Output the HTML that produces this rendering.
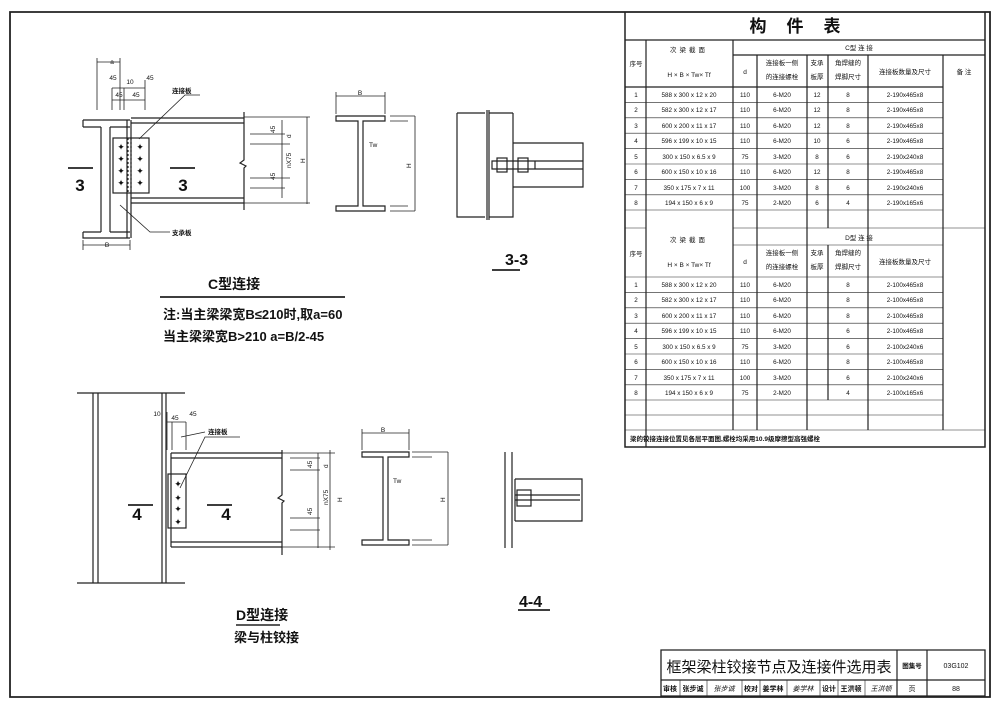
<!DOCTYPE html>
<html><head><meta charset="utf-8"><style>
html,body{margin:0;padding:0;background:#fff;}
svg{display:block;font-family:"Liberation Sans","Noto Sans CJK SC",sans-serif;}
</style></head><body>
<svg width="1001" height="709" viewBox="0 0 1001 709" xmlns="http://www.w3.org/2000/svg">
<g stroke="#222" fill="none" stroke-width="1.2">
<!-- frame -->
<path d="M10 12 H990 V697 H10 Z" stroke-width="1.8"/>
<!-- table outline -->
<path d="M625 12 V447 H985 V12" stroke-width="1.5"/>
<line x1="625" y1="40" x2="985" y2="40" stroke-width="1.3"/>
<!-- C section -->
<line x1="733" y1="55" x2="985" y2="55"/>
<line x1="625" y1="87" x2="943" y2="87"/>
<line x1="646" y1="40" x2="646" y2="447"/>
<line x1="733" y1="40" x2="733" y2="430"/>
<line x1="757" y1="55" x2="757" y2="430"/>
<line x1="807" y1="55" x2="807" y2="430"/>
<line x1="828" y1="55" x2="828" y2="228"/>
<line x1="868" y1="55" x2="868" y2="430"/>
<line x1="943" y1="55" x2="943" y2="430"/>
<line x1="828" y1="245" x2="828" y2="400"/>
<g stroke-width="0.6">
<line x1="625" y1="102.4" x2="943" y2="102.4"/><line x1="625" y1="117.8" x2="943" y2="117.8"/>
<line x1="625" y1="133.2" x2="943" y2="133.2"/><line x1="625" y1="148.6" x2="943" y2="148.6"/>
<line x1="625" y1="164" x2="943" y2="164"/><line x1="625" y1="179.4" x2="943" y2="179.4"/>
<line x1="625" y1="194.8" x2="943" y2="194.8"/><line x1="625" y1="210" x2="943" y2="210"/>
<line x1="733" y1="228" x2="985" y2="228"/>
<line x1="733" y1="245" x2="943" y2="245"/>
<line x1="625" y1="277" x2="943" y2="277"/>
<line x1="625" y1="292.4" x2="943" y2="292.4"/><line x1="625" y1="307.8" x2="943" y2="307.8"/>
<line x1="625" y1="323.2" x2="943" y2="323.2"/><line x1="625" y1="338.6" x2="943" y2="338.6"/>
<line x1="625" y1="354" x2="943" y2="354"/><line x1="625" y1="369.4" x2="943" y2="369.4"/>
<line x1="625" y1="384.8" x2="943" y2="384.8"/><line x1="625" y1="400" x2="943" y2="400"/>
<line x1="625" y1="415" x2="943" y2="415"/>
<line x1="625" y1="430" x2="985" y2="430"/>
<line x1="625" y1="228" x2="646" y2="228"/>
</g>
<!-- title block -->
<path d="M661 650 H985 V696 H661 Z" stroke-width="1.3"/>
<line x1="661" y1="680" x2="985" y2="680"/>
<line x1="897" y1="650" x2="897" y2="696"/>
<line x1="927" y1="650" x2="927" y2="696"/>
<g stroke-width="0.6">
<line x1="680" y1="680" x2="680" y2="696"/><line x1="707" y1="680" x2="707" y2="696"/>
<line x1="742" y1="680" x2="742" y2="696"/><line x1="760" y1="680" x2="760" y2="696"/>
<line x1="787" y1="680" x2="787" y2="696"/><line x1="820" y1="680" x2="820" y2="696"/>
<line x1="838" y1="680" x2="838" y2="696"/><line x1="865" y1="680" x2="865" y2="696"/>
</g>

<!-- ===== C type elevation ===== -->
<path d="M83 120 H130 M83 127 H101 M110 127 H130 M83 120 V127 M83 232 V238 H130 M83 232 H101 M110 232 H130"/>
<path d="M101 127 V232 M110 127 V232"/>
<path d="M127 120 V238 M131 120 V238"/>
<path d="M131 118 H244 M131 123 H244 M131 198 H244 M131 203 H244 M244 112 V160 L240 163 L246 166 L244 168 V210"/>
<rect x="113" y="138" width="36" height="55"/>
<line x1="128" y1="138" x2="128" y2="193" stroke-dasharray="2 2"/>
<line x1="131" y1="138" x2="131" y2="193" stroke-dasharray="2 2"/>
<path d="M68 168 H93 M170 168 H195" stroke-width="1.8"/>
<path d="M97 62 H120 M97 58 V110 M120 58 V110 M112 88 V110 M124 88 V110 M112 88 H145 M112 100 H145 M124 100 V110 M145 80 V110" stroke-width="0.8"/>
<path d="M139 139 L185 95 H200 M120 205 L150 232 H170" stroke-width="0.8"/>
<path d="M83 245 H130 M83 240 V250 M130 240 V250" stroke-width="0.8"/>
<path d="M250 134 H285 M250 144 H285 M250 178 H285 M250 188 H285 M282 120 V198 M307 117 V204 M244 117 H310 M244 203 H310 M282 144 H290 M282 178 H290" stroke-width="0.8"/>

<!-- ===== 3-3 ===== -->
<path d="M336 116 H385 V121 H363 V206 H385 V211 H336 V206 H358 V121 H336 Z"/>
<path d="M336 96 H385 M336 92 V114 M385 92 V114 M390 116 H415 M390 211 H415 M415 116 V211 M390 121 H408 M390 206 H408" stroke-width="0.8"/>
<path d="M457 113 V217 H485 M457 113 H485 M487 110 V220 M489 110 V220 M513 113 V217 H489 M489 113 H513"/>
<path d="M513 143 H583 V187 H513 M513 161 H583 M513 169 H583 M492 161 H535 V169 H492 Z"/>
<rect x="497" y="158" width="10" height="14"/><rect x="518" y="158" width="10" height="14"/>
<line x1="492" y1="270" x2="520" y2="270" stroke-width="1.8"/>

<!-- ===== D type elevation ===== -->
<path d="M77 393 H185 M77 583 H185 M93 393 V583 M98 393 V583 M162 393 V583 M166 393 V583"/>
<path d="M171 453 H282 M171 458 H282 M171 542 H282 M171 547 H282 M171 453 V547 M282 450 V495 L278 498 L284 501 L282 503 V555"/>
<rect x="168" y="474" width="18" height="54"/>
<path d="M128 505 H153 M207 505 H232" stroke-width="1.8"/>
<path d="M167 412 V450 M172 422 V450 M186 422 V450 M167 422 H186 M181 437 L205 432 M180 488 L205 437 H240" stroke-width="0.8"/>
<path d="M290 458 H320 M290 518 H320 M290 470 H320 M290 530 H320 M318 453 V547 M330 450 V550 M282 453 H335 M282 547 H335 M318 460 V548" stroke-width="0.8"/>
<line x1="236" y1="625" x2="280" y2="625" stroke-width="1.6"/>

<!-- ===== 4-4 ===== -->
<path d="M362 452 H409 V457 H388 V540 H409 V545 H362 V540 H383 V457 H362 Z"/>
<path d="M362 433 H409 M362 429 V450 M409 429 V450 M412 452 H448 M412 545 H448 M448 452 V545 M412 457 H432 M412 540 H432" stroke-width="0.8"/>
<path d="M505 452 V548 M512 452 V548 M515 479 H582 V521 H515 M515 479 V521 M515 495 H580 M515 500 H580"/>
<rect x="517" y="490" width="14" height="16"/>
<line x1="518" y1="610" x2="550" y2="610" stroke-width="1.8"/>
<line x1="160" y1="297" x2="345" y2="297" stroke-width="1.8"/>
</g>

<!-- bolts -->
<g fill="#111" font-size="9" text-anchor="middle">
<text x="121" y="150">✦</text><text x="140" y="150">✦</text>
<text x="121" y="162">✦</text><text x="140" y="162">✦</text>
<text x="121" y="174">✦</text><text x="140" y="174">✦</text>
<text x="121" y="186">✦</text><text x="140" y="186">✦</text>
<text x="178" y="487">✦</text><text x="178" y="501">✦</text><text x="178" y="512">✦</text><text x="178" y="525">✦</text>
</g>

<!-- drawing text -->
<g fill="#111">
<text x="80" y="191" font-size="17" text-anchor="middle" font-weight="bold">3</text>
<text x="183" y="191" font-size="17" text-anchor="middle" font-weight="bold">3</text>
<text x="137" y="520" font-size="17" text-anchor="middle" font-weight="bold">4</text>
<text x="226" y="520" font-size="17" text-anchor="middle" font-weight="bold">4</text>
<g font-size="6.5" text-anchor="middle">
<text x="112" y="64">a</text><text x="113" y="80">45</text><text x="130" y="84">10</text><text x="150" y="80">45</text>
<text x="119" y="97">45</text><text x="136" y="97">45</text><text x="107" y="247">B</text>
<text x="360" y="95">B</text><text x="383" y="432">B</text>
<text x="157" y="416">10</text><text x="175" y="420">45</text><text x="193" y="416">45</text>
</g>
<g font-size="6.5" font-weight="bold"><text x="172" y="93">连接板</text><text x="172" y="235">支承板</text><text x="208" y="434">连接板</text></g>
<g font-size="6.5">
<text x="275" y="133" transform="rotate(-90 275 133)">45</text><text x="291" y="138" transform="rotate(-90 291 138)">d</text>
<text x="291" y="168" transform="rotate(-90 291 168)">nX75</text><text x="275" y="180" transform="rotate(-90 275 180)">45</text>
<text x="305" y="163" transform="rotate(-90 305 163)">H</text>
<text x="411" y="168" transform="rotate(-90 411 168)">H</text>
<text x="369" y="147">Tw</text>
<text x="312" y="468" transform="rotate(-90 312 468)">45</text><text x="328" y="468" transform="rotate(-90 328 468)">d</text>
<text x="328" y="505" transform="rotate(-90 328 505)">nX75</text><text x="312" y="515" transform="rotate(-90 312 515)">45</text>
<text x="342" y="502" transform="rotate(-90 342 502)">H</text>
<text x="445" y="502" transform="rotate(-90 445 502)">H</text>
<text x="393" y="483">Tw</text>
</g>
<text x="505" y="265" font-size="16" font-weight="bold">3-3</text>
<text x="519" y="607" font-size="16" font-weight="bold">4-4</text>
<text x="208" y="289" font-size="14" font-weight="bold">C型连接</text>
<text x="163" y="319" font-size="13" font-weight="bold">注:当主梁梁宽B≤210时,取a=60</text>
<text x="163" y="341" font-size="13" font-weight="bold">当主梁梁宽B&gt;210   a=B/2-45</text>
<text x="236" y="620" font-size="14" font-weight="bold">D型连接</text>
<text x="234" y="642" font-size="13" font-weight="bold">梁与柱铰接</text>
</g>

<!-- table text -->
<g fill="#111" font-size="6.5" text-anchor="middle">
<text x="805" y="32" font-size="17" font-weight="bold" letter-spacing="20">构件表</text>
<text x="689" y="52" letter-spacing="3">次梁截面</text><text x="689" y="242" letter-spacing="3">次梁截面</text>
<text x="689" y="77">H × B × Tw× Tf</text><text x="689" y="267">H × B × Tw× Tf</text>
<text x="636" y="66">序号</text><text x="636" y="256">序号</text>
<text x="859" y="50">C型 连 接</text><text x="859" y="240">D型 连 接</text>
<text x="745" y="74">d</text><text x="745" y="264">d</text>
<text x="782" y="65">连接板一侧</text><text x="782" y="79">的连接螺栓</text>
<text x="782" y="255">连接板一侧</text><text x="782" y="269">的连接螺栓</text>
<text x="817" y="65">支承</text><text x="817" y="79">板厚</text>
<text x="817" y="255">支承</text><text x="817" y="269">板厚</text>
<text x="848" y="65">角焊缝的</text><text x="848" y="79">焊脚尺寸</text>
<text x="848" y="255">角焊缝的</text><text x="848" y="269">焊脚尺寸</text>
<text x="905" y="74">连接板数量及尺寸</text><text x="905" y="264">连接板数量及尺寸</text>
<text x="964" y="74">备 注</text>
</g>
<g fill="#111" font-size="6.3" text-anchor="middle">
<text x="636" y="97">1</text><text x="689" y="97">588 x 300 x 12 x 20</text><text x="745" y="97">110</text><text x="782" y="97">6-M20</text><text x="817" y="97">12</text><text x="848" y="97">8</text><text x="905" y="97">2-190x465x8</text>
<text x="636" y="112">2</text><text x="689" y="112">582 x 300 x 12 x 17</text><text x="745" y="112">110</text><text x="782" y="112">6-M20</text><text x="817" y="112">12</text><text x="848" y="112">8</text><text x="905" y="112">2-190x465x8</text>
<text x="636" y="128">3</text><text x="689" y="128">600 x 200 x 11 x 17</text><text x="745" y="128">110</text><text x="782" y="128">6-M20</text><text x="817" y="128">12</text><text x="848" y="128">8</text><text x="905" y="128">2-190x465x8</text>
<text x="636" y="143">4</text><text x="689" y="143">596 x 199 x 10 x 15</text><text x="745" y="143">110</text><text x="782" y="143">6-M20</text><text x="817" y="143">10</text><text x="848" y="143">6</text><text x="905" y="143">2-190x465x8</text>
<text x="636" y="159">5</text><text x="689" y="159">300 x 150 x 6.5 x 9</text><text x="745" y="159">75</text><text x="782" y="159">3-M20</text><text x="817" y="159">8</text><text x="848" y="159">6</text><text x="905" y="159">2-190x240x8</text>
<text x="636" y="174">6</text><text x="689" y="174">600 x 150 x 10 x 16</text><text x="745" y="174">110</text><text x="782" y="174">6-M20</text><text x="817" y="174">12</text><text x="848" y="174">8</text><text x="905" y="174">2-190x465x8</text>
<text x="636" y="190">7</text><text x="689" y="190">350 x 175 x 7 x 11</text><text x="745" y="190">100</text><text x="782" y="190">3-M20</text><text x="817" y="190">8</text><text x="848" y="190">6</text><text x="905" y="190">2-190x240x6</text>
<text x="636" y="205">8</text><text x="689" y="205">194 x 150 x 6 x 9</text><text x="745" y="205">75</text><text x="782" y="205">2-M20</text><text x="817" y="205">6</text><text x="848" y="205">4</text><text x="905" y="205">2-190x165x6</text>
<text x="636" y="287">1</text><text x="689" y="287">588 x 300 x 12 x 20</text><text x="745" y="287">110</text><text x="782" y="287">6-M20</text><text x="848" y="287">8</text><text x="905" y="287">2-100x465x8</text>
<text x="636" y="302">2</text><text x="689" y="302">582 x 300 x 12 x 17</text><text x="745" y="302">110</text><text x="782" y="302">6-M20</text><text x="848" y="302">8</text><text x="905" y="302">2-100x465x8</text>
<text x="636" y="318">3</text><text x="689" y="318">600 x 200 x 11 x 17</text><text x="745" y="318">110</text><text x="782" y="318">6-M20</text><text x="848" y="318">8</text><text x="905" y="318">2-100x465x8</text>
<text x="636" y="333">4</text><text x="689" y="333">596 x 199 x 10 x 15</text><text x="745" y="333">110</text><text x="782" y="333">6-M20</text><text x="848" y="333">6</text><text x="905" y="333">2-100x465x8</text>
<text x="636" y="349">5</text><text x="689" y="349">300 x 150 x 6.5 x 9</text><text x="745" y="349">75</text><text x="782" y="349">3-M20</text><text x="848" y="349">6</text><text x="905" y="349">2-100x240x6</text>
<text x="636" y="364">6</text><text x="689" y="364">600 x 150 x 10 x 16</text><text x="745" y="364">110</text><text x="782" y="364">6-M20</text><text x="848" y="364">8</text><text x="905" y="364">2-100x465x8</text>
<text x="636" y="380">7</text><text x="689" y="380">350 x 175 x 7 x 11</text><text x="745" y="380">100</text><text x="782" y="380">3-M20</text><text x="848" y="380">6</text><text x="905" y="380">2-100x240x6</text>
<text x="636" y="395">8</text><text x="689" y="395">194 x 150 x 6 x 9</text><text x="745" y="395">75</text><text x="782" y="395">2-M20</text><text x="848" y="395">4</text><text x="905" y="395">2-100x165x6</text>
</g>
<text x="630" y="441" font-size="6.5" font-weight="bold" fill="#111">梁的铰接连接位置见各层平面图,螺栓均采用10.9级摩擦型高强螺栓</text>
<g fill="#111">
<text x="779" y="672" font-size="15" text-anchor="middle">框架梁柱铰接节点及连接件选用表</text>
<text x="912" y="668" font-size="6.5" text-anchor="middle" font-weight="bold">图集号</text>
<text x="956" y="668" font-size="7" text-anchor="middle">03G102</text>
<text x="912" y="691" font-size="7" text-anchor="middle">页</text>
<text x="956" y="691" font-size="7" text-anchor="middle">88</text>
<g font-size="7" font-weight="bold" text-anchor="middle">
<text x="670" y="691">审核</text><text x="693" y="691">张步诚</text><text x="724" y="691" font-weight="normal" font-style="italic">张步诚</text>
<text x="751" y="691">校对</text><text x="773" y="691">姜学林</text><text x="803" y="691" font-weight="normal" font-style="italic">姜学林</text>
<text x="829" y="691">设计</text><text x="851" y="691">王洪顿</text><text x="881" y="691" font-weight="normal" font-style="italic">王洪顿</text>
</g>
</g>
</svg>
</body></html>
